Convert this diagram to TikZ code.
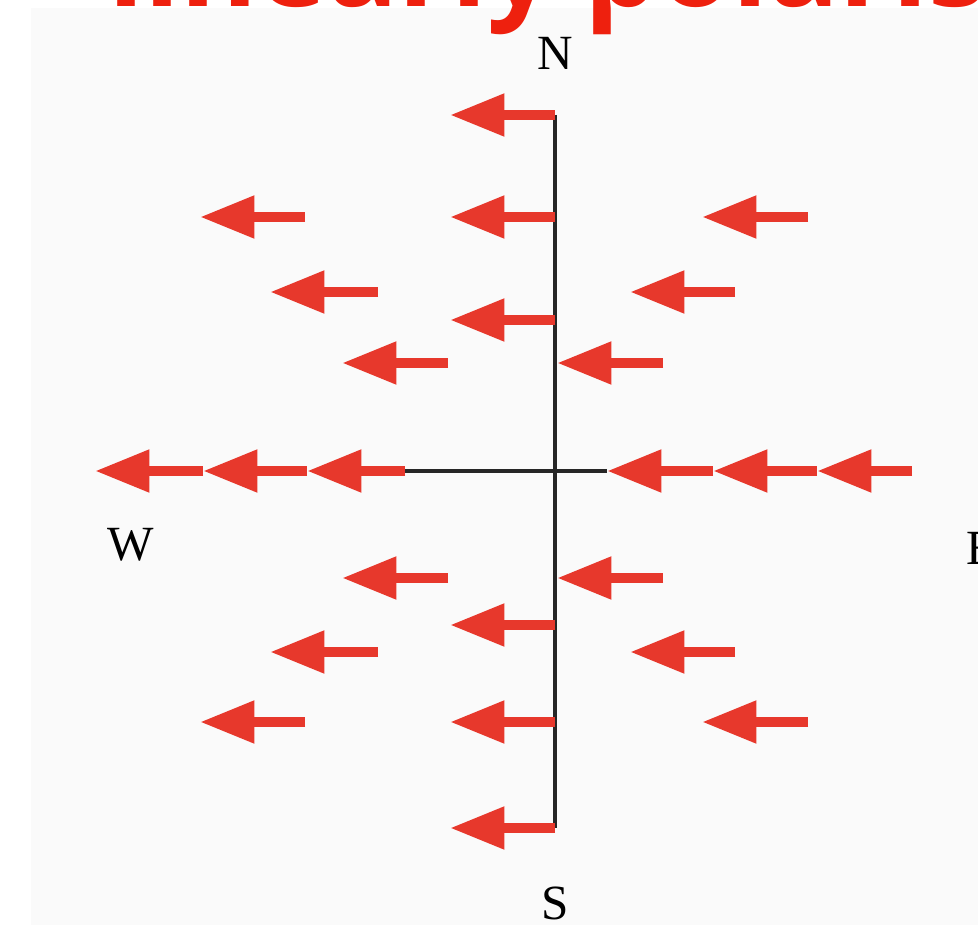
\documentclass[tikz,border=0pt]{standalone}
\usepackage{fontspec}
\setmainfont{Liberation Serif}
\newfontfamily\headfont{Open Sans}
\usepackage{tikz}
\usetikzlibrary{arrows.meta}

\definecolor{arrowred}{RGB}{231,56,44}
\definecolor{headred}{RGB}{238,32,14}
\definecolor{photogray}{RGB}{250,250,250}

\tikzset{
  field/.style={draw=arrowred,line width=5.8pt,-{Triangle[length=31pt,width=23pt]}},
  axis/.style={draw=black!85,line width=2.8pt},
  compass/.style={font=\fontsize{28}{30}\selectfont},
  headline/.style={text=headred,font=\headfont\bfseries\fontsize{67}{70}\selectfont,inner sep=0pt}
}

\begin{document}
\begin{tikzpicture}[x=0.02cm,y=-0.02cm]
  \useasboundingbox (0,0) rectangle (978,925);
  \clip (0,0) rectangle (978,925);
  \fill[photogray] (31,8) rectangle (978,925);
  % axes
  \draw[axis] (555,115) -- (555,828);
  \draw[axis] (400,471) -- (607,471);
  % arrows on the N-S line
  \foreach \y in {115,217,320,625,722,828}
    \draw[field] (555,\y) -- (450,\y);
  % arrows on both sides
  \foreach \xa/\xb/\y in {305/200/217,808/702/217,378/270/292,735/630/292,
                          448/342/363,663/557/363,448/342/578,663/557/578,
                          378/270/652,735/630/652,305/200/722,808/702/722}
    \draw[field] (\xa,\y) -- (\xb,\y);
  % arrows on the E-W line
  \foreach \xa/\xb in {405/307,307/203,203/95,912/817,817/713,713/607}
    \draw[field] (\xa,471) -- (\xb,471);
  \node[compass] (north) at (555,53) {N};
  \node[compass] (south) at (555,903) {S};
  \node[compass] (west) at (131,545) {W};
  \node[compass] (east) at (982,548) {E};
  \node[headline,anchor=base west] (title) at (108,7) {linearly polarised};
\end{tikzpicture}
\end{document}
